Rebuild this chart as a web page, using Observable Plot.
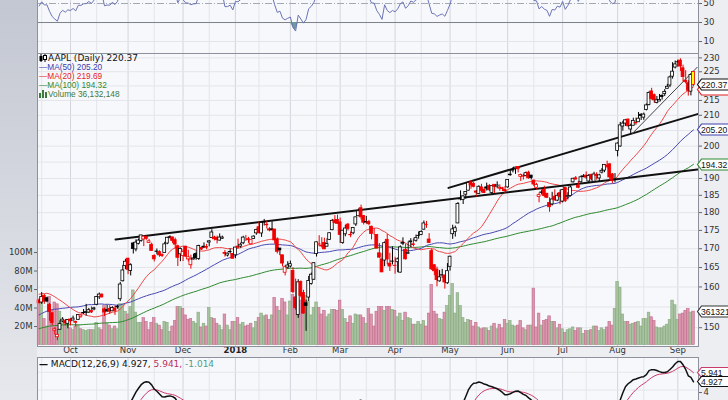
<!DOCTYPE html>
<html>
<head>
<meta charset="utf-8">
<script src="https://cdn.jsdelivr.net/npm/d3@7"></script>
<script src="https://cdn.jsdelivr.net/npm/@observablehq/plot@0.6"></script>
<style>
  html,body{margin:0;padding:0;background:#eef0f4;}
  #chart{position:relative;width:728px;height:400px;overflow:hidden;background:#eceef2;}
  #leftbg{position:absolute;left:0;top:0;width:37px;height:400px;background:linear-gradient(to bottom,#c3c7d1 0%,#d6d9e0 55%,#e6e8ed 100%);}
  #chart svg{position:absolute;left:0;}
  .lg{position:absolute;white-space:nowrap;line-height:1;}
</style>
</head>
<body>
<div id="chart"><div id="leftbg"></div></div>
<script>
// ---------------- DATA ----------------
// warm-up history (raw closes) used for the moving averages, MACD and RSI
const histDates = ["2017-04-21","2017-04-24","2017-04-25","2017-04-26","2017-04-27","2017-04-28",
"2017-05-01","2017-05-02","2017-05-03","2017-05-04","2017-05-05","2017-05-08","2017-05-09","2017-05-10","2017-05-11","2017-05-12","2017-05-15","2017-05-16","2017-05-17","2017-05-18","2017-05-19","2017-05-22","2017-05-23","2017-05-24","2017-05-25","2017-05-26","2017-05-30","2017-05-31",
"2017-06-01","2017-06-02","2017-06-05","2017-06-06","2017-06-07","2017-06-08","2017-06-09","2017-06-12","2017-06-13","2017-06-14","2017-06-15","2017-06-16","2017-06-19","2017-06-20","2017-06-21","2017-06-22","2017-06-23","2017-06-26","2017-06-27","2017-06-28","2017-06-29","2017-06-30",
"2017-07-03","2017-07-05","2017-07-06","2017-07-07","2017-07-10","2017-07-11","2017-07-12","2017-07-13","2017-07-14","2017-07-17","2017-07-18","2017-07-19","2017-07-20","2017-07-21","2017-07-24","2017-07-25","2017-07-26","2017-07-27","2017-07-28","2017-07-31",
"2017-08-01","2017-08-02","2017-08-03","2017-08-04","2017-08-07","2017-08-08","2017-08-09","2017-08-10","2017-08-11","2017-08-14","2017-08-15","2017-08-16","2017-08-17","2017-08-18","2017-08-21","2017-08-22","2017-08-23","2017-08-24","2017-08-25","2017-08-28","2017-08-29","2017-08-30","2017-08-31",
"2017-09-01","2017-09-05","2017-09-06","2017-09-07","2017-09-08","2017-09-11","2017-09-12","2017-09-13"];
const histClose = [142.27,143.64,144.53,143.68,143.79,143.65,
146.58,147.51,147.06,146.53,148.96,153.01,153.99,153.26,153.95,156.10,155.70,155.47,150.25,152.54,153.06,153.99,153.80,153.34,153.87,153.61,153.67,152.76,
153.18,155.45,153.93,154.45,155.37,154.99,148.98,145.42,146.59,145.16,144.29,142.27,146.34,145.01,145.87,145.63,146.28,145.82,143.73,145.83,143.68,144.02,
143.50,144.09,142.73,144.18,145.06,145.53,145.74,147.77,149.04,149.56,150.08,151.02,150.34,150.27,152.09,152.74,153.46,150.56,149.50,148.73,
150.05,157.14,155.57,156.39,158.81,160.08,161.06,155.32,157.48,159.85,161.60,160.95,157.86,157.50,157.21,159.78,159.98,159.27,159.86,161.47,162.91,163.35,164.00,
164.05,162.08,161.91,161.26,158.63,161.50,160.86,159.65];

// visible daily bars
const dates = [
"2017-09-14","2017-09-15","2017-09-18","2017-09-19","2017-09-20","2017-09-21","2017-09-22","2017-09-25","2017-09-26","2017-09-27","2017-09-28","2017-09-29",
"2017-10-02","2017-10-03","2017-10-04","2017-10-05","2017-10-06","2017-10-09","2017-10-10","2017-10-11","2017-10-12","2017-10-13","2017-10-16","2017-10-17","2017-10-18","2017-10-19","2017-10-20","2017-10-23","2017-10-24","2017-10-25","2017-10-26","2017-10-27","2017-10-30","2017-10-31",
"2017-11-01","2017-11-02","2017-11-03","2017-11-06","2017-11-07","2017-11-08","2017-11-09","2017-11-10","2017-11-13","2017-11-14","2017-11-15","2017-11-16","2017-11-17","2017-11-20","2017-11-21","2017-11-22","2017-11-24","2017-11-27","2017-11-28","2017-11-29","2017-11-30",
"2017-12-01","2017-12-04","2017-12-05","2017-12-06","2017-12-07","2017-12-08","2017-12-11","2017-12-12","2017-12-13","2017-12-14","2017-12-15","2017-12-18","2017-12-19","2017-12-20","2017-12-21","2017-12-22","2017-12-26","2017-12-27","2017-12-28","2017-12-29",
"2018-01-02","2018-01-03","2018-01-04","2018-01-05","2018-01-08","2018-01-09","2018-01-10","2018-01-11","2018-01-12","2018-01-16","2018-01-17","2018-01-18","2018-01-19","2018-01-22","2018-01-23","2018-01-24","2018-01-25","2018-01-26","2018-01-29","2018-01-30","2018-01-31",
"2018-02-01","2018-02-02","2018-02-05","2018-02-06","2018-02-07","2018-02-08","2018-02-09","2018-02-12","2018-02-13","2018-02-14","2018-02-15","2018-02-16","2018-02-20","2018-02-21","2018-02-22","2018-02-23","2018-02-26","2018-02-27","2018-02-28",
"2018-03-01","2018-03-02","2018-03-05","2018-03-06","2018-03-07","2018-03-08","2018-03-09","2018-03-12","2018-03-13","2018-03-14","2018-03-15","2018-03-16","2018-03-19","2018-03-20","2018-03-21","2018-03-22","2018-03-23","2018-03-26","2018-03-27","2018-03-28","2018-03-29",
"2018-04-02","2018-04-03","2018-04-04","2018-04-05","2018-04-06","2018-04-09","2018-04-10","2018-04-11","2018-04-12","2018-04-13","2018-04-16","2018-04-17","2018-04-18","2018-04-19","2018-04-20","2018-04-23","2018-04-24","2018-04-25","2018-04-26","2018-04-27","2018-04-30",
"2018-05-01","2018-05-02","2018-05-03","2018-05-04","2018-05-07","2018-05-08","2018-05-09","2018-05-10","2018-05-11","2018-05-14","2018-05-15","2018-05-16","2018-05-17","2018-05-18","2018-05-21","2018-05-22","2018-05-23","2018-05-24","2018-05-25","2018-05-29","2018-05-30","2018-05-31",
"2018-06-01","2018-06-04","2018-06-05","2018-06-06","2018-06-07","2018-06-08","2018-06-11","2018-06-12","2018-06-13","2018-06-14","2018-06-15","2018-06-18","2018-06-19","2018-06-20","2018-06-21","2018-06-22","2018-06-25","2018-06-26","2018-06-27","2018-06-28","2018-06-29",
"2018-07-02","2018-07-03","2018-07-05","2018-07-06","2018-07-09","2018-07-10","2018-07-11","2018-07-12","2018-07-13","2018-07-16","2018-07-17","2018-07-18","2018-07-19","2018-07-20","2018-07-23","2018-07-24","2018-07-25","2018-07-26","2018-07-27","2018-07-30","2018-07-31",
"2018-08-01","2018-08-02","2018-08-03","2018-08-06","2018-08-07","2018-08-08","2018-08-09","2018-08-10","2018-08-13","2018-08-14","2018-08-15","2018-08-16","2018-08-17","2018-08-20","2018-08-21","2018-08-22","2018-08-23","2018-08-24","2018-08-27","2018-08-28","2018-08-29","2018-08-30","2018-08-31",
"2018-09-04","2018-09-05","2018-09-06","2018-09-07","2018-09-10","2018-09-11","2018-09-12"];

const open = [158.99,158.47,160.11,159.51,157.90,155.80,151.54,149.99,151.78,153.80,153.89,153.21,
154.26,154.01,153.63,154.18,154.97,155.81,156.06,155.97,156.35,156.73,157.90,159.78,160.42,156.75,156.61,156.89,156.29,156.91,157.23,159.29,163.89,167.90,
169.87,166.60,174.00,172.37,173.91,174.66,175.11,175.11,173.50,173.04,169.97,171.18,171.04,170.29,170.78,173.36,175.10,175.05,174.30,172.63,170.43,
169.95,172.48,169.06,167.50,169.03,170.49,169.20,172.15,172.50,172.40,173.63,174.88,175.03,174.87,174.17,174.68,170.80,170.10,171.00,170.52,
170.16,172.53,172.54,173.44,174.35,174.55,173.16,174.59,176.18,177.90,176.15,179.37,178.61,177.30,177.30,177.25,174.51,172.00,170.16,165.53,166.87,
167.17,166.00,159.10,154.83,163.09,160.29,157.07,158.50,161.95,163.04,169.79,172.36,172.05,172.83,171.80,173.67,176.35,179.10,179.26,
178.54,172.80,175.21,177.91,174.94,175.48,177.96,180.29,182.59,180.32,178.50,178.65,177.32,175.24,175.04,170.00,168.39,168.07,173.68,167.25,167.81,
166.64,167.64,164.88,172.58,170.97,169.88,173.00,172.23,173.41,174.78,175.03,176.49,177.81,173.76,170.60,166.83,165.67,162.62,164.12,164.00,162.13,
166.41,175.23,175.88,178.25,185.18,184.99,186.55,187.74,189.49,189.01,186.78,186.07,188.00,187.19,188.00,188.38,186.35,188.77,188.23,187.60,187.72,187.22,
187.99,191.64,193.07,193.63,194.14,191.17,191.35,191.39,192.42,191.55,190.03,187.88,185.14,186.35,187.25,186.12,183.40,182.99,185.23,184.10,186.29,
183.82,187.79,185.26,185.42,189.50,190.71,188.50,189.53,191.08,191.52,189.75,191.78,189.69,191.78,190.68,192.45,193.06,194.61,194.99,191.90,190.30,
199.13,200.58,207.03,208.00,209.32,206.05,207.28,207.36,207.70,210.16,209.22,211.75,213.44,218.10,216.80,214.10,214.65,216.60,217.15,219.01,220.15,223.25,226.51,
228.41,228.99,226.23,221.85,220.95,218.01,224.94];

const high = [159.40,160.97,160.50,159.77,158.26,155.80,152.27,151.83,153.92,154.72,154.28,154.13,
154.45,155.09,153.86,155.44,155.49,156.73,158.00,156.98,157.37,157.28,160.00,160.87,160.71,157.08,157.75,157.69,157.42,157.55,157.83,163.60,168.07,169.65,
169.94,168.50,174.26,174.99,175.25,176.24,176.10,175.38,174.50,173.48,170.32,171.87,171.39,170.56,173.70,175.00,175.50,175.08,174.87,172.92,172.14,
171.67,172.62,171.52,170.20,170.44,171.00,172.89,172.39,173.54,173.13,174.17,177.20,175.39,175.42,176.02,175.42,171.47,170.78,171.85,170.59,
172.30,174.55,173.47,175.37,175.61,175.06,174.30,175.49,177.36,179.39,179.25,180.10,179.58,177.78,179.44,177.30,174.95,172.00,170.16,167.37,168.44,
168.62,166.80,163.88,163.72,163.40,161.00,157.89,163.89,164.75,167.54,173.09,174.82,174.26,174.12,173.95,175.65,179.39,180.48,180.62,
179.78,176.30,177.74,178.25,175.85,177.12,180.00,182.39,183.50,180.52,180.24,179.12,177.47,176.80,175.09,172.68,169.92,173.10,175.15,170.02,171.75,
168.94,168.75,172.01,174.23,172.48,173.09,174.00,173.92,175.00,175.84,176.19,178.94,178.82,175.39,171.22,166.92,166.33,165.42,165.73,164.33,167.26,
169.20,177.75,177.50,184.25,187.67,186.22,187.40,190.37,190.06,189.53,187.07,188.46,188.91,187.81,189.27,188.88,188.50,188.84,189.65,188.75,188.00,188.23,
190.26,193.42,193.94,194.08,194.20,192.00,191.97,192.61,192.88,191.57,190.16,189.22,186.33,187.20,188.35,186.15,184.92,186.53,187.28,186.21,187.19,
187.30,187.95,186.41,188.43,190.68,191.28,189.78,191.41,191.84,192.65,191.87,191.80,192.55,192.43,191.96,193.66,194.85,195.96,195.19,192.20,192.14,
201.76,208.38,208.74,209.25,209.50,207.81,209.78,209.10,210.95,210.56,210.74,213.81,217.95,219.18,217.19,216.36,217.05,216.90,218.74,220.54,223.49,228.26,228.87,
229.18,229.67,227.35,225.37,221.85,224.30,225.00];

const low = [158.09,158.00,158.00,158.44,153.83,152.75,150.56,149.16,151.69,153.54,152.70,152.00,
152.72,153.91,152.46,154.05,154.56,155.49,155.10,155.75,155.73,156.41,157.65,159.23,159.60,155.02,155.96,155.50,156.20,155.27,156.78,158.70,163.72,166.94,
165.61,165.28,171.12,171.72,173.60,174.33,173.14,174.27,173.40,171.18,168.38,170.30,169.64,169.56,170.78,173.05,174.65,173.34,171.86,167.16,168.44,
168.50,169.63,168.40,166.46,168.91,168.82,168.79,171.46,172.00,171.65,172.46,174.86,174.09,173.25,174.10,174.50,169.68,169.71,170.48,169.22,
169.26,171.96,172.08,173.05,173.93,173.41,173.00,174.49,175.65,176.14,175.07,178.25,177.41,176.60,176.82,173.20,170.53,170.06,167.07,164.70,166.50,
166.76,160.10,156.00,154.00,159.07,155.03,150.24,157.51,161.65,162.88,169.00,171.77,171.42,171.01,171.71,173.54,176.21,178.16,178.05,
172.66,172.45,174.52,176.13,174.27,175.07,177.39,180.21,179.24,177.81,178.07,177.62,173.66,174.94,171.26,168.60,164.94,166.44,166.92,165.19,166.90,
164.47,164.88,164.77,172.08,168.20,169.85,171.53,171.70,173.04,173.85,174.83,176.41,176.88,172.66,165.43,164.09,161.22,162.41,163.37,160.63,161.84,
165.27,173.80,174.44,178.17,184.75,183.67,185.22,187.65,187.45,187.86,185.10,186.00,186.36,186.13,186.91,186.78,185.76,186.21,187.65,186.87,186.78,186.14,
187.75,191.35,192.36,191.92,192.34,189.77,190.21,191.15,190.44,190.22,188.26,187.20,183.45,185.73,184.94,184.70,180.73,182.54,184.03,183.80,182.91,
183.42,183.54,184.28,185.20,189.30,190.18,187.61,189.31,190.90,190.42,189.20,189.93,189.69,190.17,189.56,192.05,192.43,193.61,190.10,189.07,189.34,
197.31,200.35,205.48,207.07,206.76,204.52,207.20,206.67,207.70,208.26,208.33,211.47,213.16,215.11,214.03,213.84,214.60,215.11,216.33,218.92,219.41,222.40,226.00,
226.63,225.10,221.30,220.71,216.47,216.56,219.84];

const close = [158.28,159.88,158.67,158.73,156.07,153.39,151.89,150.55,153.14,154.23,153.28,154.12,
153.81,154.48,153.48,155.39,155.30,155.84,155.90,156.55,156.00,156.99,159.88,160.47,159.76,155.98,156.25,156.17,157.10,156.41,157.41,163.05,166.72,169.04,
166.89,168.11,172.50,174.25,174.81,176.24,175.88,174.67,173.97,171.34,169.08,171.10,170.15,169.98,173.14,174.96,174.97,174.09,173.07,169.48,171.85,
171.05,169.80,169.64,169.01,169.32,169.37,172.67,171.70,172.27,172.22,173.97,176.42,174.54,174.35,175.01,175.01,170.57,170.60,171.08,169.23,
172.26,172.23,173.03,175.00,174.35,174.33,174.29,175.28,177.09,176.19,179.10,179.26,178.46,177.00,177.04,174.22,171.11,171.51,167.96,166.97,167.43,
167.78,160.50,156.49,163.03,159.54,155.15,156.41,162.71,164.34,167.37,172.99,172.43,171.85,171.07,172.50,175.50,178.97,178.39,178.12,
175.00,176.21,176.82,176.67,175.03,176.94,179.98,181.72,179.97,178.44,178.65,178.02,175.30,175.24,171.27,168.85,164.94,172.77,168.34,166.48,167.78,
166.68,168.39,171.61,172.80,168.38,170.05,173.25,172.44,174.14,174.73,175.82,178.24,177.84,172.80,165.72,165.24,162.94,163.65,164.22,162.32,165.26,
169.10,176.57,176.89,183.83,185.16,186.05,187.36,190.04,188.59,188.15,186.44,188.18,186.99,186.31,187.63,187.16,188.36,188.15,188.58,187.90,187.50,186.87,
190.24,191.83,193.31,193.98,193.46,191.70,191.23,192.28,190.70,190.80,188.84,188.74,185.69,186.50,185.46,184.92,182.17,184.43,184.16,185.50,185.11,
187.18,183.92,185.40,187.97,190.58,190.35,187.88,191.03,191.33,190.91,191.45,190.40,191.88,191.44,191.61,193.00,194.82,194.21,190.98,189.91,190.29,
201.50,207.39,207.99,209.07,207.11,207.25,208.88,207.53,208.87,209.75,210.24,213.32,217.58,215.46,215.04,215.05,215.19,216.16,217.94,219.70,222.98,225.03,227.63,
228.36,226.87,223.10,221.30,218.33,223.85,220.37];

// volume, millions of shares
const volume = [44,49,28,20,52,37,46,44,36,25,22,26,
18,16,20,21,17,16,15,16,16,16,24,18,16,42,23,21,17,20,17,44,44,36,
33,41,59,35,24,24,29,25,16,24,29,23,21,16,25,24,14,20,26,41,41,
39,32,27,28,25,23,35,19,23,20,40,29,28,23,21,16,33,21,16,25,
25,29,22,24,20,21,23,18,25,29,34,31,32,27,32,51,41,37,50,46,32,
47,54,52,50,48,50,53,47,32,40,46,40,33,37,30,33,38,38,37,
48,38,28,24,31,23,33,32,32,29,23,39,33,20,36,41,41,37,41,41,38,
37,30,34,26,35,29,28,22,22,25,22,26,20,34,65,36,33,28,27,35,42,
53,66,34,56,42,29,24,27,26,20,24,19,17,18,18,15,20,23,17,22,18,27,
23,26,21,20,21,26,18,16,21,21,61,19,34,21,26,27,31,25,25,18,22,
17,13,16,17,19,15,18,18,12,15,15,16,20,20,15,18,16,19,25,21,39,
68,62,33,25,25,22,23,24,25,20,28,28,35,30,26,19,18,18,20,22,27,48,43,
27,33,34,37,39,35,36.13];

// dividends (prices shown are dividend adjusted)
const exDates = ["2017-08-10","2017-11-10","2018-02-09","2018-05-11","2018-08-10"];
const divAmounts = [0.63,0.63,0.63,0.73,0.73];

// axis tick labels
const monthLabels = ["Oct","Nov","Dec","2018","Feb","Mar","Apr","May","Jun","Jul","Aug","Sep"];
const priceTicks = [150,160,165,170,175,180,185,190,200,210,215,225,230];
const priceGrid = [150,155,160,165,170,175,180,185,190,195,200,205,210,215,220,225,230];
const volumeTicks = [20,40,60,80,100];
const rsiTicks = [10,30,50];
const macdTicks = [4];
const macdGrid = [2,4,6];

// hand-drawn trend lines [day index, price]
const trendLow = [[29.2,172.5],[251.5,192.7]];
const trendHigh = [[156.4,187.2],[251.5,210.4]];
const trendShort = [[226.5,203.9],[251.4,226.6]];

// values printed in the legends / tags
const lastClose = 220.37, ma50Last = 205.20, ma20Last = 219.69, ma100Last = 194.32;
const lastVolume = 36132148;
const macdLast = 4.927, signalLast = 5.941, histLast = -1.014;

// ---------------- COMPUTE ----------------
const allDates = histDates.concat(dates);
const allClose = histClose.concat(close);
const factor = allDates.map(() => 1);
exDates.forEach((ex, k) => {
  const j = allDates.indexOf(ex);
  const f = 1 - divAmounts[k] / allClose[j - 1];
  for (let t = 0; t < j; t++) factor[t] *= f;
});
const H = histClose.length;
const adj = allClose.map((c, t) => c * factor[t]);

function sma(arr, n) {
  return arr.map((_, t) => t < n - 1 ? NaN : d3.mean(arr.slice(t - n + 1, t + 1)));
}
function ema(arr, n) {
  const k = 2 / (n + 1); let prev;
  return arr.map((v, t) => (prev = t === 0 ? v : v * k + prev * (1 - k)));
}
function rsiCalc(arr, n) {
  const out = arr.map(() => NaN); let g = 0, l = 0;
  for (let t = 1; t <= n; t++) { const d = arr[t] - arr[t - 1]; if (d > 0) g += d; else l -= d; }
  g /= n; l /= n; out[n] = 100 - 100 / (1 + g / l);
  for (let t = n + 1; t < arr.length; t++) {
    const d = arr[t] - arr[t - 1];
    g = (g * (n - 1) + Math.max(d, 0)) / n; l = (l * (n - 1) + Math.max(-d, 0)) / n;
    out[t] = 100 - 100 / (1 + g / l);
  }
  return out;
}
const ma20 = sma(adj, 20), ma50 = sma(adj, 50), ma100 = sma(adj, 100);
const e12 = ema(adj, 12), e26 = ema(adj, 26);
const macdAll = e12.map((v, t) => v - e26[t]);
const sigAll = ema(macdAll, 9);
const rsiAll = rsiCalc(adj, 14);

const bars = dates.map((d, i) => {
  const f = factor[H + i];
  const o = open[i] * f, c = adj[H + i], p = adj[H + i - 1];
  return {i, date: d, open: o, high: high[i] * f, low: low[i] * f, close: c, prev: p,
    volume: volume[i], ma20: ma20[H + i], ma50: ma50[H + i], ma100: ma100[H + i],
    macd: macdAll[H + i], signal: sigAll[H + i], rsi: rsiAll[H + i],
    color: c >= p ? "#000000" : "#f00000"};
});

const monthStarts = [];
dates.forEach((d, i) => { if (i > 0 && d.slice(0, 7) !== dates[i - 1].slice(0, 7)) monthStarts.push(i); });
const monthTicks = monthStarts.map((i, k) => ({i, label: monthLabels[k]}));
const midMonth = [];
dates.forEach((d, i) => { if (i > 0 && +d.slice(8) >= 15 && +dates[i - 1].slice(8) < 15) midMonth.push(i); });

// ---------------- LAYOUT ----------------
const W = 728, ML = 37, MR = 30;
const xDomain = [-0.6, 251.9];
const panelFill = "#f7f8fb", gridLight = "#e3e5ea", gridMonth = "#d2d5dc", frameCol = "#8c919b";
const axisFont = "DejaVu Sans, sans-serif";
const tagFont = "Liberation Sans, Arial, sans-serif";
const chart = document.getElementById("chart");
function place(svg, top) { svg.style.top = top + "px"; chart.appendChild(svg); return svg; }
const base = {width: W, marginLeft: ML, marginRight: MR, marginTop: 0,
  style: {background: "transparent", fontFamily: axisFont, overflow: "visible"}};
const xOpt = {domain: xDomain, axis: null};
const vGrid = [
  Plot.ruleX(midMonth, {x: d => d, stroke: gridLight}),
  Plot.ruleX(monthStarts, {x: d => d, stroke: gridMonth})
];
const axisStyle = {fontSize: 8.5, fill: "#333", stroke: "#666", tickSize: 3, tickPadding: 2, label: null, tickFormat: d => String(d)};

// RSI panel (only its lower part is inside the picture)
const rsiPlot = Plot.plot({...base, height: 101, marginBottom: 0,
  x: xOpt, y: {domain: [-2.6, 103.7], axis: null},
  marks: [
    Plot.frame({fill: panelFill}),
    ...vGrid,
    Plot.ruleY([10, 90], {stroke: gridLight}),
    Plot.ruleY([30, 70], {stroke: "#7c808a"}),
    Plot.ruleY([50], {stroke: "#a4a8b2", strokeDasharray: "7,2,1,2"}),
    Plot.areaY(bars, {x: "i", y1: 30, y2: d => Math.min(d.rsi, 30), fill: "#6e9b96"}),
    Plot.line(bars, {x: "i", y: "rsi", stroke: "#6c74b6", strokeWidth: 1}),
    Plot.axisY({anchor: "right", ticks: rsiTicks, ...axisStyle}),
    Plot.frame({stroke: frameCol})
  ]});
place(rsiPlot, -48);

// main panel: three stacked layers sharing the same frame
const mainH = 304, mainMB = 11, mainTop = 53;
const priceY = {type: "log", domain: [145.6, 231.6], axis: null};
const gridPlot = Plot.plot({...base, height: mainH, marginBottom: mainMB, x: xOpt, y: priceY,
  marks: [
    Plot.frame({fill: panelFill}),
    ...vGrid,
    Plot.ruleY(priceGrid, {stroke: gridLight})
  ]});
place(gridPlot, mainTop);

const volPlot = Plot.plot({...base, height: mainH, marginBottom: mainMB, x: xOpt,
  y: {domain: [-1.6, 315.2], axis: null},
  marks: [
    Plot.rect(bars, {x1: d => d.i - 0.5, x2: d => d.i + 0.5, y1: 0, y2: "volume",
      fill: d => d.close >= d.prev ? "#a7c29f" : "#d996ad",
      stroke: d => d.close >= d.prev ? "#86a87f" : "#c26d8b", strokeWidth: 0.6}),
    Plot.axisY({anchor: "left", ticks: volumeTicks, ...axisStyle, tickFormat: d => d + "M"})
  ]});
place(volPlot, mainTop);

const last = bars[bars.length - 1];
const pricePlot = Plot.plot({...base, height: mainH, marginBottom: mainMB, x: xOpt, y: priceY,
  color: {type: "identity"},
  marks: [
    Plot.line(bars, {x: "i", y: "ma100", stroke: "#2f8a2f", strokeWidth: 1}),
    Plot.line(bars, {x: "i", y: "ma50", stroke: "#4848b2", strokeWidth: 1}),
    Plot.line(bars, {x: "i", y: "ma20", stroke: "#f04848", strokeWidth: 1}),
    Plot.line(trendLow, {x: d => d[0], y: d => d[1], stroke: "#111", strokeWidth: 2}),
    Plot.line(trendHigh, {x: d => d[0], y: d => d[1], stroke: "#111", strokeWidth: 2}),
    Plot.line(trendShort, {x: d => d[0], y: d => d[1], stroke: "#444", strokeWidth: 1}),
    Plot.ruleX(bars, {x: "i", y1: "low", y2: "high", stroke: "color", strokeWidth: 1}),
    Plot.rect(bars, {x1: d => d.i - 0.55, x2: d => d.i + 0.55,
      y1: d => Math.min(d.open, d.close), y2: d => Math.max(d.open, d.close),
      fill: d => d.i === last.i ? "#ffff00" : (d.close > d.open ? "#ffffff" : d.color),
      stroke: "color", strokeWidth: 0.8}),
    Plot.axisY({anchor: "right", ticks: priceTicks, ...axisStyle}),
    Plot.text(monthTicks.filter(d => !/^\d/.test(d.label)), {x: "i", text: "label", frameAnchor: "bottom", dy: 6.5, fontSize: 8.5, fill: "#333"}),
    Plot.text(monthTicks.filter(d => /^\d/.test(d.label)), {x: "i", text: "label", frameAnchor: "bottom", dy: 6.5, fontSize: 8.5, fill: "#222", fontWeight: "bold"}),
    Plot.frame({stroke: frameCol})
  ]});
place(pricePlot, mainTop);

// MACD panel (only its upper part is inside the picture)
const macdPlot = Plot.plot({...base, height: 60, marginBottom: 0, x: xOpt,
  y: {domain: [0.916, 7.657], axis: null},
  marks: [
    Plot.frame({fill: panelFill}),
    ...vGrid,
    Plot.ruleY(macdGrid, {stroke: gridLight}),
    Plot.line(bars, {x: "i", y: "signal", stroke: "#cc3a6a", strokeWidth: 1}),
    Plot.line(bars, {x: "i", y: "macd", stroke: "#111", strokeWidth: 1.5}),
    Plot.axisY({anchor: "right", ticks: macdTicks, ...axisStyle, dy: 2.5}),
    Plot.frame({stroke: frameCol})
  ]});
place(macdPlot, 357);

// ---------------- TAGS ----------------
function tag(svg, yv, label, color, h = 11) {
  const y = Math.round(yv) + 0.5;
  const x0 = W - MR - 0.5, w = 33;
  const g = d3.select(svg).append("g").attr("text-anchor", "start");
  g.append("path")
    .attr("d", `M${x0},${y} L${x0 + 4},${y - h / 2} L${x0 + w},${y - h / 2} L${x0 + w},${y + h / 2} L${x0 + 4},${y + h / 2} Z`)
    .attr("fill", "#ffffff").attr("stroke", color).attr("stroke-width", 1.2);
  if (label) g.append("text").attr("x", x0 + 3.5).attr("y", y).attr("dy", "0.36em")
    .attr("font-family", tagFont).attr("font-size", 8.6).attr("fill", "#111").text(label);
}
const py = pricePlot.scale("y"), vy = volPlot.scale("y"), my = macdPlot.scale("y");
tag(pricePlot, py.apply(ma20Last) + 3, null, "#e02020");           // MA(20) tag, mostly hidden
tag(pricePlot, py.apply(lastClose), lastClose.toFixed(2), "#111");
tag(pricePlot, py.apply(ma50Last), ma50Last.toFixed(2), "#4040b0");
tag(pricePlot, py.apply(ma100Last), ma100Last.toFixed(2), "#2f8a2f");
tag(pricePlot, vy.apply(lastVolume / 1e6), String(lastVolume), "#333");
tag(macdPlot, my.apply(signalLast), signalLast.toFixed(3), "#cc3a6a", 10);
tag(macdPlot, my.apply(macdLast), macdLast.toFixed(3), "#111", 10);

// ---------------- LEGENDS ----------------
function legend(top, html, font, size, color) {
  const d = document.createElement("div");
  d.className = "lg"; d.style.left = "39px"; d.style.top = top + "px";
  d.style.fontFamily = font; d.style.fontSize = size + "px"; d.style.color = color;
  d.innerHTML = html; chart.appendChild(d);
}
const candleIcon = '<svg width="8" height="8" style="position:static;vertical-align:-1px;margin-right:1px"><line x1="2" y1="0" x2="2" y2="8" stroke="#000"/><rect x="0.5" y="2" width="3" height="5" fill="#000"/><line x1="6" y1="0" x2="6" y2="8" stroke="#000"/><rect x="4.5" y="1.5" width="3" height="4" fill="#fff" stroke="#000"/></svg>';
const volIcon = '<svg width="9" height="8" style="position:static;vertical-align:-1px"><rect x="0" y="3" width="2" height="5" fill="#3d7a3d"/><rect x="3" y="0" width="2" height="8" fill="#3d7a3d"/><rect x="6" y="2" width="2" height="6" fill="#3d7a3d"/></svg>';
const fmt2 = d3.format(".2f"), fmtC = d3.format(",");
legend(54, candleIcon + "AAPL (Daily) " + fmt2(lastClose), "DejaVu Sans", 9, "#111");
legend(62.5, "—MA(50) " + fmt2(ma50Last), "Liberation Sans", 8.3, "#3c3cae");
legend(72, "—MA(20) " + fmt2(ma20Last), "Liberation Sans", 8.3, "#e82020");
legend(81, "—MA(100) " + fmt2(ma100Last), "Liberation Sans", 8.3, "#2f8a2f");
legend(90, volIcon + "Volume " + fmtC(lastVolume), "Liberation Sans", 8.3, "#3d7a3d");
legend(359.5, '<span style="font-weight:bold">—</span> MACD(12,26,9) ' + macdLast.toFixed(3) + ', <span style="color:#b8305e">' + signalLast.toFixed(3) + ',</span> <span style="color:#4f9c8a">' + histLast.toFixed(3) + '</span>', "DejaVu Sans", 9, "#111");
</script>
</body>
</html>
